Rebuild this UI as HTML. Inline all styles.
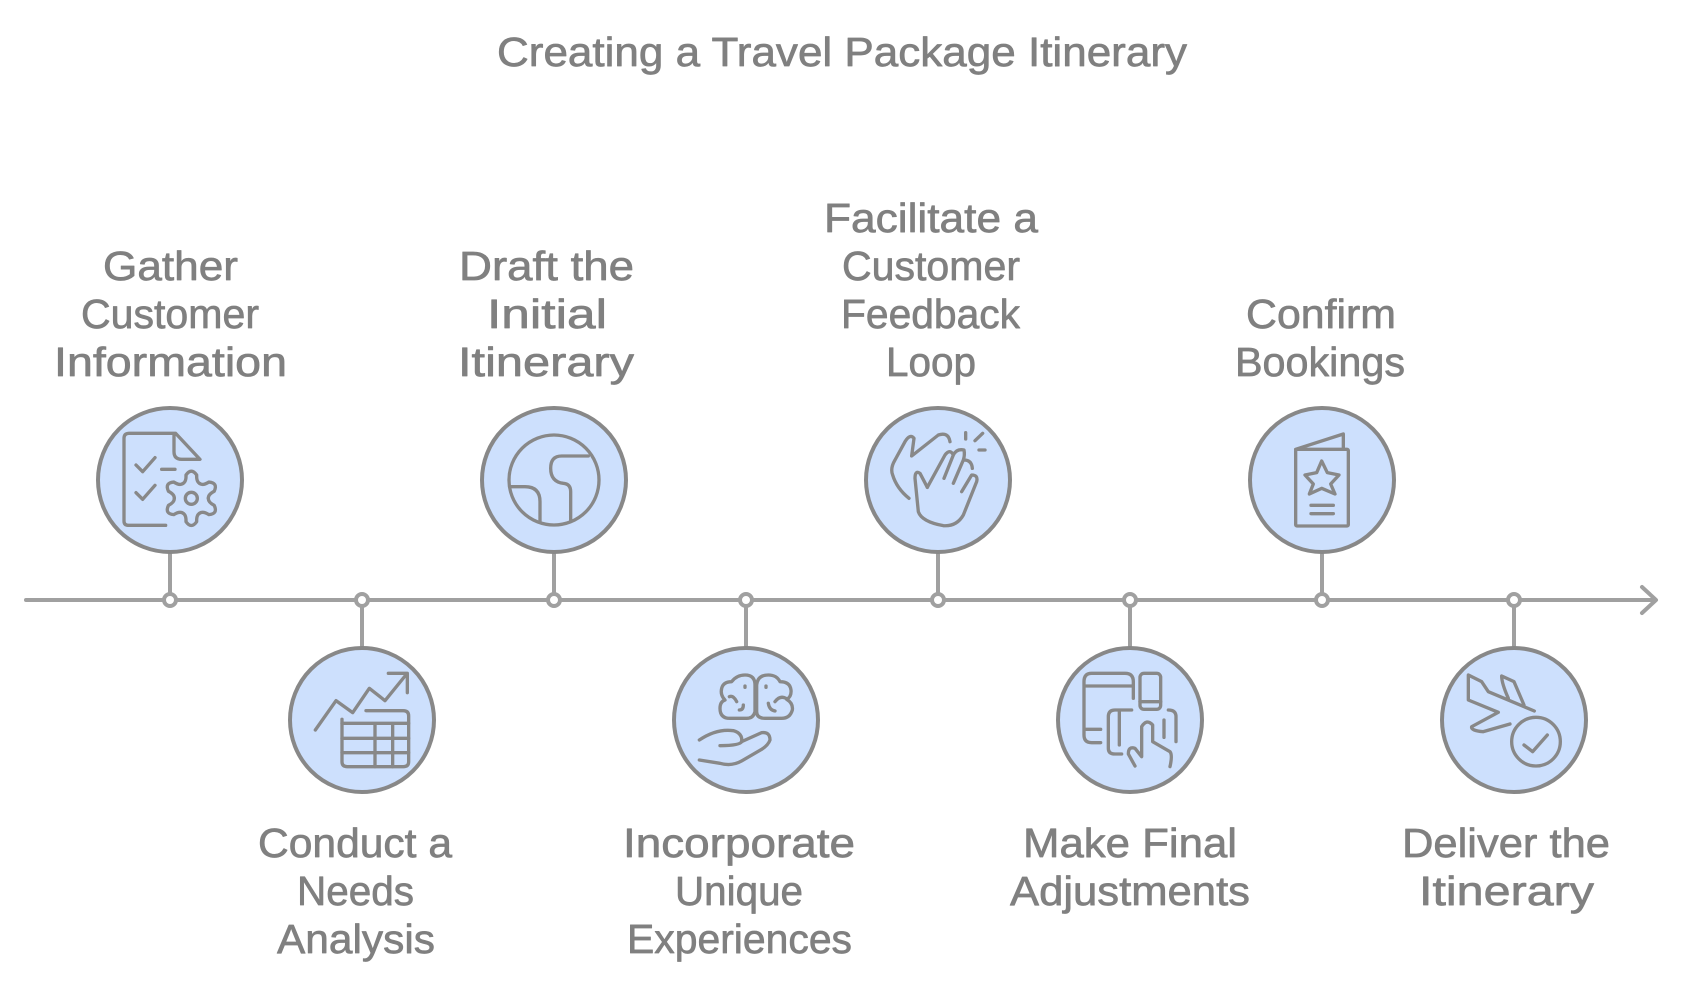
<!DOCTYPE html>
<html lang="en">
<head>
<meta charset="utf-8">
<title>Creating a Travel Package Itinerary</title>
<style>
html,body{margin:0;padding:0;background:#fff;width:1682px;height:984px;overflow:hidden}
svg{display:block}
text{font-family:"Liberation Sans",sans-serif;font-size:41px;fill:#808080;stroke:#808080;stroke-width:.7px;stroke-linejoin:round}
.ic{fill:none;stroke:#888;stroke-width:10;stroke-linecap:round;stroke-linejoin:round}
</style>
</head>
<body>
<svg width="1682" height="984" viewBox="0 0 1682 984" xmlns="http://www.w3.org/2000/svg">
<rect width="1682" height="984" fill="#fff"/>

<!-- title -->
<text x="497" y="66" textLength="690" lengthAdjust="spacingAndGlyphs">Creating a Travel Package Itinerary</text>

<!-- timeline -->
<g fill="none" stroke="#a0a0a0" stroke-width="4" stroke-linecap="round" stroke-linejoin="round">
<path d="M26 600H1655"/>
<path d="M1642 587L1656 600L1642 613"/>
<path d="M170 550V600M362 600V650M554 550V600M746 600V650M938 550V600M1130 600V650M1322 550V600M1514 600V650"/>
<g fill="#fff">
<circle cx="170" cy="600" r="6"/><circle cx="362" cy="600" r="6"/><circle cx="554" cy="600" r="6"/><circle cx="746" cy="600" r="6"/>
<circle cx="938" cy="600" r="6"/><circle cx="1130" cy="600" r="6"/><circle cx="1322" cy="600" r="6"/><circle cx="1514" cy="600" r="6"/>
</g>
</g>

<!-- circles -->
<g fill="#cde0fd" stroke="#888" stroke-width="4">
<circle cx="170" cy="480" r="72"/><circle cx="362" cy="720" r="72"/>
<circle cx="554" cy="480" r="72"/><circle cx="746" cy="720" r="72"/>
<circle cx="938" cy="480" r="72"/><circle cx="1130" cy="720" r="72"/>
<circle cx="1322" cy="480" r="72"/><circle cx="1514" cy="720" r="72"/>
</g>

<!-- icons 1,2 -->
<g class="ic" transform="translate(0,380) scale(.33333)">
<path d="M497 436H385Q372 436 372 423V175Q372 160 387 160H527L600 238H545Q522 238 522 215V165"/>
<path d="M408 255L428 275L465 233M485 268H525M408 338L428 358L465 316"/>
<circle cx="574" cy="355" r="18"/>
<path d="M548 311Q559 306 558 285Q574 262 590 285Q589 306 600 311"/>
<path d="M548 311Q559 306 558 285Q574 262 590 285Q589 306 600 311" transform="rotate(60 574 355)"/>
<path d="M548 311Q559 306 558 285Q574 262 590 285Q589 306 600 311" transform="rotate(120 574 355)"/>
<path d="M548 311Q559 306 558 285Q574 262 590 285Q589 306 600 311" transform="rotate(180 574 355)"/>
<path d="M548 311Q559 306 558 285Q574 262 590 285Q589 306 600 311" transform="rotate(240 574 355)"/>
<path d="M548 311Q559 306 558 285Q574 262 590 285Q589 306 600 311" transform="rotate(300 574 355)"/>
<path d="M946 1050L1008 962L1058 998L1108 925L1155 962L1220 882M1165 880H1222V938"/>
<path d="M1098 992H1210Q1226 992 1226 1008V1145Q1226 1160 1210 1160H1042Q1026 1160 1026 1145V1018"/>
<path d="M1026 1030H1226M1026 1075H1226M1026 1118H1226M1125 1030V1160M1178 1030V1160"/>
</g>

<!-- icons 3,4 -->
<g class="ic" transform="translate(460,380) scale(.33333)">
<circle cx="282" cy="300" r="135"/>
<path d="M385 228H305Q272 228 272 265Q272 305 310 310Q332 312 332 335V420"/>
<path d="M150 320H195Q240 320 240 365V425"/>
<path d="M885 995Q880 1015 860 1015H810Q780 1015 780 985Q780 965 795 960Q780 945 785 925Q790 905 815 905Q830 885 855 885Q885 885 885 915V995"/>
<path d="M890 915Q893 885 925 885Q950 885 960 905Q990 905 993 930Q995 950 980 958Q1000 970 997 990Q990 1015 965 1015H915Q890 1015 890 995V915"/>
<path d="M855 918V922M918 918V922M808 950Q820 945 830 965M850 975Q850 990 838 990M925 970Q928 990 945 993M945 965Q960 945 978 955"/>
<path d="M718 1080Q770 1045 820 1052Q848 1060 845 1085Q840 1097 780 1097"/>
<path d="M845 1085L905 1058Q930 1055 930 1080Q925 1095 905 1108L845 1143Q815 1160 780 1150L718 1140"/>
</g>

<!-- icons 5,6 -->
<g class="ic" transform="translate(840,380) scale(.33333)">
<path d="M207 355Q170 325 158 285Q150 265 165 240L195 185Q210 160 222 175L215 228L295 165Q325 155 330 185"/>
<path d="M262 322L240 280Q225 270 225 295L235 395Q245 425 310 437Q350 440 370 405L410 305Q415 285 395 285L365 335"/>
<path d="M262 322L315 225Q330 205 340 225L312 295M340 225Q350 205 372 210Q375 225 370 240L340 310M372 240Q395 240 397 265"/>
<path d="M377 158V177M428 160L405 182M417 210H435"/>
<path d="M880 955V905Q880 880 855 880H755Q732 880 732 905V1065Q732 1088 755 1088H782M735 918H880M735 1048H782"/>
<rect x="900" y="880" width="62" height="108" rx="12"/>
<path d="M900 965H962"/>
<path d="M875 990H825Q805 990 805 1010V1105Q805 1122 825 1122H845M838 990V1095"/>
<path d="M985 990Q1008 990 1008 1010V1085M972 1020V1072"/>
<path d="M885 1158L865 1122Q865 1098 885 1105L905 1130V1040Q920 1015 938 1035V1085L990 1115Q998 1125 990 1160"/>
</g>

<!-- icons 7,8 -->
<g class="ic" transform="translate(1200,380) scale(.33333)">
<rect x="287" y="208" width="158" height="230" rx="4"/>
<path d="M287 208L430 162V208"/>
<path d="M365 243L382 278L417 285L392 312L405 342L365 325L328 342L340 312L315 285L350 278Z"/>
<path d="M333 376H400M333 401H400"/>
<path d="M1003 993L865 935L845 905L805 885V960L895 997L815 1040Q812 1052 850 1055L930 1032"/>
<path d="M972 975L942 905L905 888Q905 910 925 955"/>
<circle cx="1008" cy="1085" r="73"/>
<path d="M972 1095L998 1115L1042 1065"/>
</g>

<!-- labels -->
<text x="103" y="280" textLength="135" lengthAdjust="spacingAndGlyphs">Gather</text>
<text x="81" y="328" textLength="178" lengthAdjust="spacingAndGlyphs">Customer</text>
<text x="54" y="376" textLength="233" lengthAdjust="spacingAndGlyphs">Information</text>

<text x="258" y="857" textLength="194" lengthAdjust="spacingAndGlyphs">Conduct a</text>
<text x="297" y="905" textLength="117" lengthAdjust="spacingAndGlyphs">Needs</text>
<text x="277" y="953" textLength="158" lengthAdjust="spacingAndGlyphs">Analysis</text>

<text x="459" y="280" textLength="175" lengthAdjust="spacingAndGlyphs">Draft the</text>
<text x="487" y="328" textLength="120" lengthAdjust="spacingAndGlyphs">Initial</text>
<text x="458" y="376" textLength="176" lengthAdjust="spacingAndGlyphs">Itinerary</text>

<text x="623" y="857" textLength="232" lengthAdjust="spacingAndGlyphs">Incorporate</text>
<text x="675" y="905" textLength="128" lengthAdjust="spacingAndGlyphs">Unique</text>
<text x="627" y="953" textLength="225" lengthAdjust="spacingAndGlyphs">Experiences</text>

<text x="824" y="232" textLength="214" lengthAdjust="spacingAndGlyphs">Facilitate a</text>
<text x="842" y="280" textLength="178" lengthAdjust="spacingAndGlyphs">Customer</text>
<text x="841" y="328" textLength="179" lengthAdjust="spacingAndGlyphs">Feedback</text>
<text x="886" y="376" textLength="90" lengthAdjust="spacingAndGlyphs">Loop</text>

<text x="1023" y="857" textLength="214" lengthAdjust="spacingAndGlyphs">Make Final</text>
<text x="1010" y="905" textLength="240" lengthAdjust="spacingAndGlyphs">Adjustments</text>

<text x="1246" y="328" textLength="150" lengthAdjust="spacingAndGlyphs">Confirm</text>
<text x="1235" y="376" textLength="170" lengthAdjust="spacingAndGlyphs">Bookings</text>

<text x="1402" y="857" textLength="208" lengthAdjust="spacingAndGlyphs">Deliver the</text>
<text x="1419" y="905" textLength="175" lengthAdjust="spacingAndGlyphs">Itinerary</text>
</svg>
</body>
</html>
